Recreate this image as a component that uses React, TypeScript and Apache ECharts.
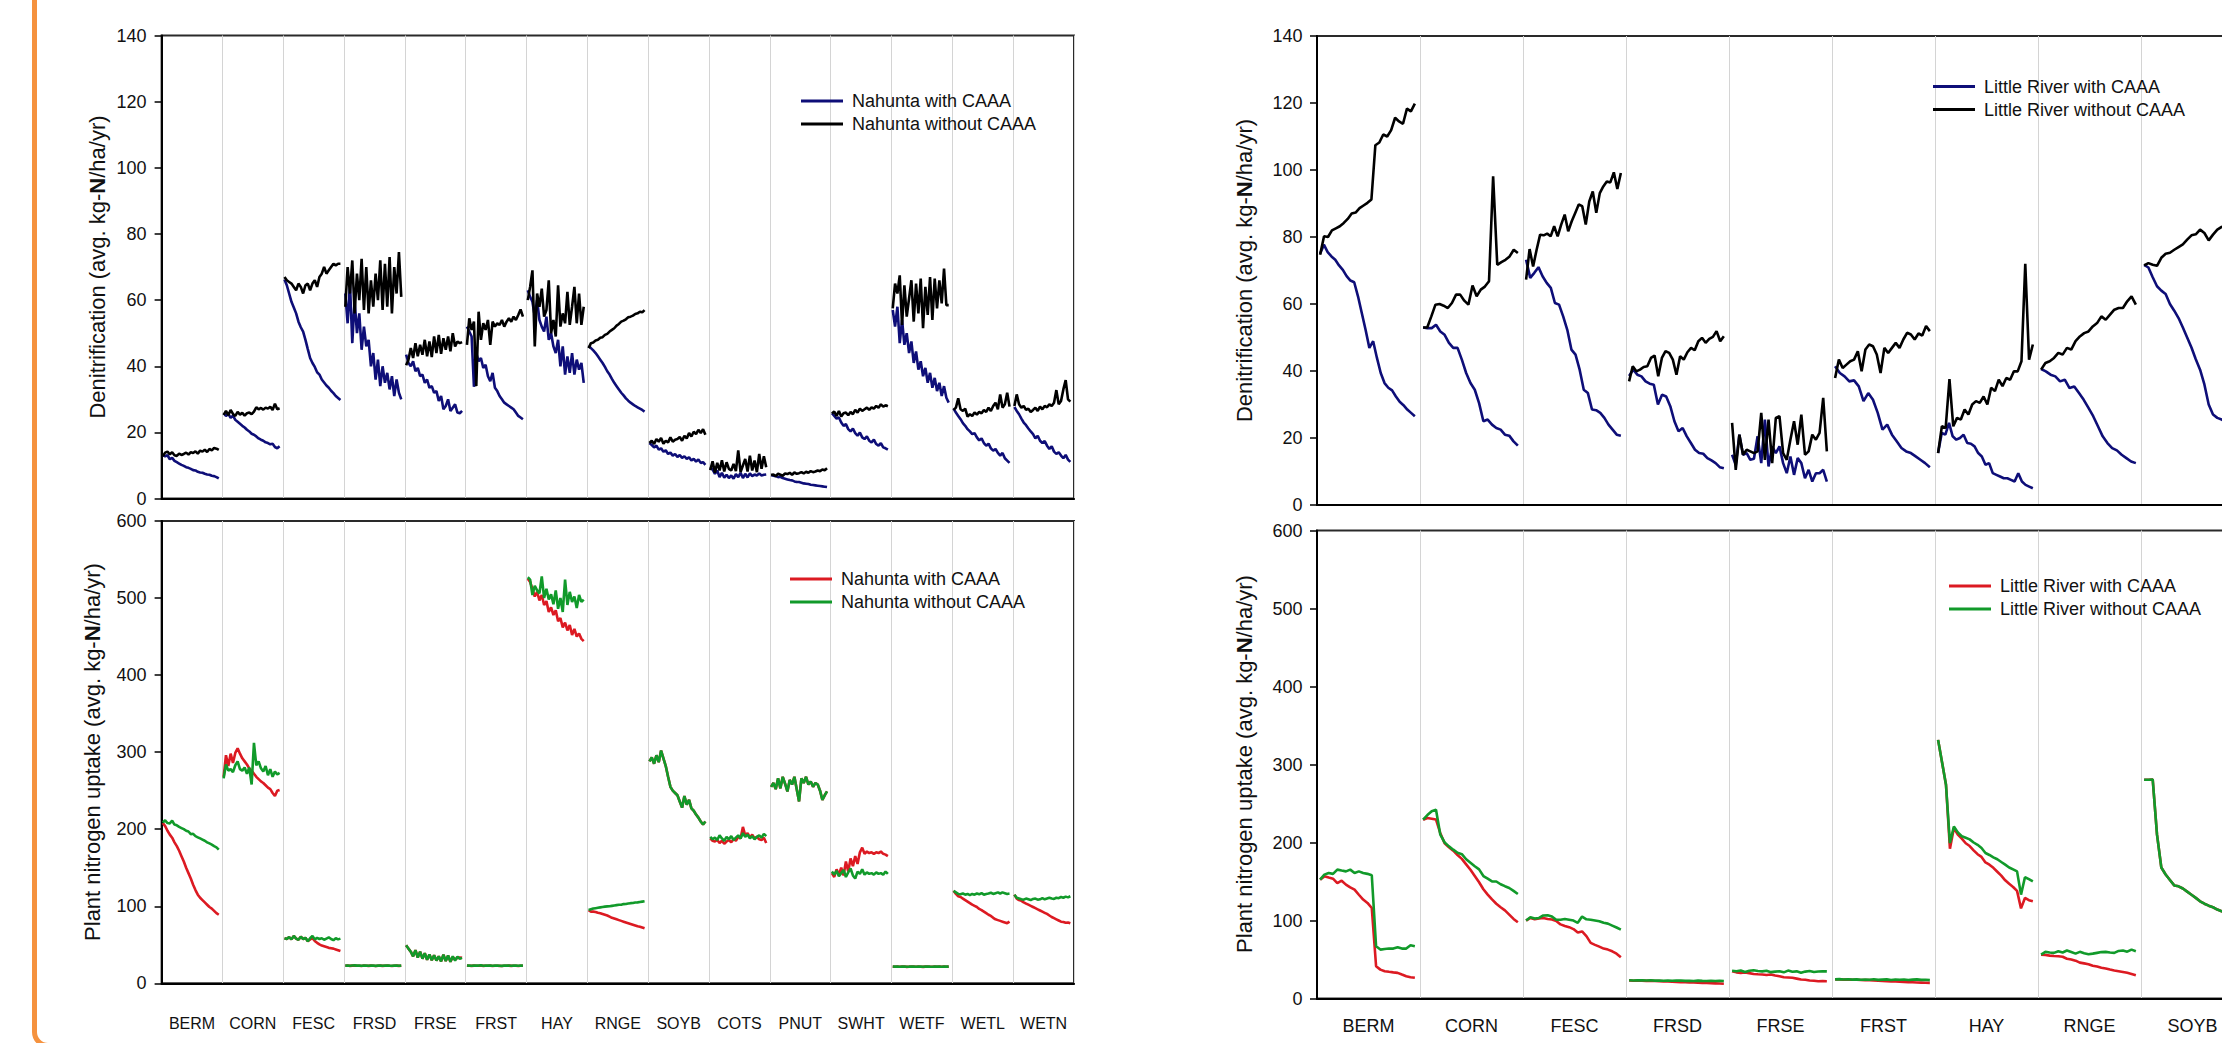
import React, { useEffect, useRef } from "react";
import * as echarts from "echarts";

const categories = ["BERM", "CORN", "FESC", "FRSD", "FRSE", "FRST", "HAY", "RNGE", "SOYB", "COTS", "PNUT", "SWHT", "WETF", "WETL", "WETN"];

const denitAxis = [0, 140, 20];
const uptakeAxis = [0, 600, 100];

// ---------- Nahunta: denitrification ----------
const nahDenitWith: number[][] = [
  [13.2, 12.8, 13.1, 11.9, 12.3, 11.4, 11.0, 10.6, 10.2, 9.9, 9.5, 9.3, 9.0, 8.6, 8.5, 8.1, 7.9, 7.8, 7.5, 7.3, 7.2, 6.9, 6.8, 6.5, 6.1],
  [25.8, 25.0, 25.6, 24.4, 25.1, 23.8, 23.2, 22.6, 22.0, 21.5, 20.8, 20.3, 19.6, 19.3, 18.8, 18.2, 17.8, 17.5, 17.0, 16.8, 16.4, 16.6, 15.6, 15.2, 15.8],
  [66.2, 64.5, 62.0, 59.5, 57.8, 56.0, 53.5, 51.8, 50.5, 48.0, 45.2, 42.5, 41.0, 39.8, 38.2, 37.5, 36.0, 35.1, 34.2, 33.5, 32.6, 31.9, 31.0, 30.4, 29.8],
  [62, 53, 65, 47, 60, 50, 56, 45, 52, 46, 48, 40, 44, 36, 42, 34, 40, 35, 38, 33, 37, 31, 36, 32, 30],
  [43.5, 41.0, 40.0, 41.5, 38.5, 39.5, 37.0, 37.5, 35.0, 36.0, 33.5, 34.0, 32.0, 32.5, 29.5, 31.0, 27.0, 28.0, 30.0, 26.5, 27.5, 28.5, 26.0, 25.8, 26.5],
  [52.0, 50.5, 49.0, 33.8, 44.0, 41.5, 42.5, 39.5, 40.5, 37.0, 35.5, 38.0, 33.5, 32.5, 31.0, 30.0, 29.0, 28.5, 28.0, 27.5, 27.0, 26.0, 25.0, 24.5, 24.0],
  [63.0, 61.0, 59.5, 55.0, 60.0, 54.0, 52.0, 50.5, 55.0, 48.0, 50.0, 46.0, 44.0, 48.0, 40.0, 46.0, 37.5, 43.0, 38.0, 44.0, 37.5, 42.0, 39.0, 41.0, 35.0],
  [46.2, 45.5, 44.8, 44.0, 43.0, 42.0, 41.0, 39.8, 38.5, 37.5, 36.2, 35.0, 34.0, 33.0, 32.0, 31.2, 30.3, 29.6, 29.0, 28.5, 28.0, 27.6, 27.2, 26.8, 26.3],
  [16.8, 16.2, 15.5, 16.0, 14.8, 15.2, 14.2, 14.6, 13.5, 13.9, 13.0, 13.5, 12.6, 13.2, 12.3, 12.8, 12.0, 12.5, 11.5, 12.0, 11.2, 11.8, 10.8, 11.0, 10.2],
  [9.5, 8.8, 7.5, 8.5, 6.5, 7.8, 6.3, 7.2, 6.2, 7.0, 6.0, 7.4, 6.5, 7.8, 6.2, 7.5, 6.4, 7.6, 6.8, 7.3, 7.0, 7.6, 7.0, 7.2, 7.3],
  [7.1, 6.9, 6.8, 6.5, 6.6, 6.2, 6.0, 5.8, 5.6, 5.5, 5.2, 5.0, 5.0, 4.8, 4.6, 4.5, 4.4, 4.2, 4.1, 4.0, 3.9, 3.8, 3.7, 3.6, 3.5],
  [25.8, 25.0, 24.2, 24.5, 23.0, 22.0, 22.5, 21.0, 20.3, 21.2, 19.8, 19.0, 20.0, 18.5, 18.0, 18.8, 17.5, 17.0, 17.8, 16.5, 16.0, 16.8, 15.5, 15.2, 14.8],
  [57.0, 52.0, 58.0, 47.0, 54.0, 46.5, 50.0, 44.0, 47.5, 41.0, 44.5, 39.0, 41.5, 37.0, 39.5, 35.0, 38.0, 33.5, 36.5, 32.5, 35.0, 31.0, 34.0, 30.5, 29.0],
  [27.2, 26.0, 25.0, 24.0, 22.8, 22.0, 21.0, 20.3, 19.5, 19.8, 18.5, 17.6, 18.2, 16.8, 16.0, 16.6, 15.2, 14.5, 15.0, 13.8, 13.0, 13.8, 12.2, 11.5, 10.8],
  [27.7, 26.5, 25.5, 24.2, 23.0, 22.2, 21.2, 20.3, 19.5, 18.2, 19.0, 17.5, 16.8, 17.4, 16.0, 15.0, 15.8, 14.2, 13.5, 14.0, 13.0, 12.2, 13.2, 11.8, 11.1],
];
const nahDenitWithout: number[][] = [
  [12.8, 13.9, 14.2, 13.4, 14.0, 13.1, 12.9, 13.6, 13.2, 13.5, 13.9, 13.3, 14.0, 13.8, 14.3, 13.6, 14.5, 14.2, 14.8, 14.1, 15.0, 14.6, 15.3, 15.1, 14.7],
  [25.3, 26.5, 25.2, 26.8, 25.6, 25.0, 26.2, 25.4, 25.9, 25.1, 25.8, 26.0, 25.5, 26.3, 27.6, 27.0, 27.4, 26.9, 27.5, 27.2, 27.8, 26.8, 28.7, 27.0, 27.3],
  [67, 66, 65.5, 65, 64, 63, 65, 64, 62, 64.5, 65, 63, 65, 66, 64, 67, 68, 70, 68, 69, 70, 71, 70.5, 71, 71],
  [58, 70, 62, 72, 56, 68, 60, 72.5, 57, 70, 56, 66, 58, 68, 60, 72, 57, 71, 58, 73, 56, 70, 62, 74.5, 61],
  [40.3, 42.0, 45.5, 42.5, 47.0, 43.0, 46.5, 43.5, 48.0, 43.0, 47.5, 42.8, 49.0, 44.0, 49.5, 43.8, 48.5, 45.0, 49.0, 44.5, 50.0, 46.0, 47.5, 47.0, 47.3],
  [46.5, 54.5, 51.0, 53.5, 34.0, 56.5, 48.0, 53.0, 51.0, 54.0, 46.5, 53.5, 52.0, 53.0, 52.5, 54.0, 52.0, 53.5, 54.5, 53.5, 55.0, 54.0, 55.5, 57.2, 55.0],
  [60.0, 64.0, 69.0, 46.0, 62.0, 58.0, 63.5, 55.0, 57.0, 66.0, 50.0, 54.0, 49.0, 64.5, 52.0, 56.0, 53.0, 62.5, 52.5, 58.0, 64.0, 53.0, 62.0, 52.5, 58.0],
  [45.5, 47.0, 47.2, 47.8, 48.0, 48.6, 48.8, 49.5, 49.8, 50.5, 51.0, 51.5, 52.3, 52.8, 53.5, 53.8, 54.2, 54.8, 55.0, 55.3, 55.8, 56.0, 56.5, 56.3, 57.0],
  [16.8, 17.5, 16.5, 18.0, 17.2, 18.3, 16.6, 17.5, 17.0, 18.5, 17.2, 17.8, 18.0, 18.6, 17.5, 19.0, 18.2, 19.8, 18.8, 20.2, 19.5, 20.8, 19.8, 21.0, 19.3],
  [8.6, 11.3, 7.8, 10.8, 8.5, 11.6, 8.2, 11.0, 9.0, 8.5, 10.5, 8.3, 14.6, 8.0, 10.0, 12.0, 8.2, 13.0, 8.5, 11.5, 8.0, 13.5, 9.0, 12.8, 9.5],
  [7.1, 7.3, 6.8, 7.5, 7.2, 6.9, 7.6, 7.4, 7.8, 7.2, 7.9, 7.5, 7.7, 8.0, 7.6, 8.1, 7.8, 8.3, 8.0, 8.2, 8.5, 8.3, 8.8, 8.6, 9.2],
  [25.7, 26.3, 25.0, 26.5, 24.8, 25.8, 26.0, 25.2, 26.2, 25.5, 26.8, 26.0, 27.2, 26.5, 27.0, 27.5, 26.8, 27.6, 27.2, 28.0, 27.5, 28.5, 27.8, 28.2, 27.9],
  [57.5, 65.0, 62.0, 67.5, 52.5, 64.5, 55.0, 60.5, 66.0, 53.5, 65.0, 56.0, 66.5, 51.5, 64.0, 55.5, 67.0, 54.0, 66.5, 57.5, 66.0, 59.0, 69.5, 58.5, 58.5],
  [26.8, 27.5, 30.3, 27.0, 26.5, 27.2, 24.8, 25.5, 25.0, 26.0, 25.4, 26.2, 25.8, 26.8, 26.2, 27.5, 26.5, 28.0, 29.0, 27.0, 31.5, 27.5, 28.5, 32.0, 27.8],
  [28.0, 31.5, 28.5, 27.5, 28.0, 26.8, 27.2, 26.2, 26.8, 27.5, 26.5, 27.8, 27.0, 28.0, 27.6, 28.5, 28.0, 29.0, 32.8, 28.5, 29.5, 33.0, 35.8, 30.0, 29.3],
];

// ---------- Nahunta: plant nitrogen uptake ----------
const nahUptakeWith: number[][] = [
  [208, 204, 198, 193, 189, 183, 178, 172, 165, 158, 150, 143, 136, 128, 121, 115, 111, 108, 105, 102, 99, 97, 94, 91, 89],
  [268, 296, 282, 298, 286, 299, 305, 298, 292, 288, 284, 279, 276, 272, 268, 265, 262, 260, 257, 254, 252, 247, 243, 250, 251],
  [58.5, 57.5, 60.0, 57.0, 61.5, 58.0, 56.5, 60.5, 57.5, 59.0, 54.5, 57.0, 58.5, 55.0, 52.5, 50.5, 49.0, 48.0, 47.0, 46.0, 45.5, 45.0, 44.0, 43.0, 42.0],
  [22.8, 23.0, 22.6, 22.9, 23.1, 22.7, 22.8, 22.5, 23.0, 22.8, 22.6, 22.9, 22.8, 22.4, 22.7, 22.9, 22.6, 22.8, 23.0, 22.7, 22.5, 22.8, 22.9, 22.6, 22.8],
  [49.5, 45.0, 41.0, 35.0, 43.0, 33.5, 41.0, 32.0, 39.0, 30.5, 37.5, 30.0, 36.5, 29.5, 35.0, 28.5, 37.0, 29.0, 36.0, 28.0, 34.0, 31.0, 33.0, 33.5, 33.0],
  [23.0, 22.8, 22.6, 22.9, 22.7, 22.8, 23.1, 22.6, 22.8, 22.7, 22.9, 22.5, 22.7, 22.8, 22.6, 22.4, 22.8, 22.7, 22.9, 22.6, 22.8, 22.7, 22.5, 22.8, 22.7],
  [525, 521, 512, 502, 508, 497, 504, 491, 496, 482, 488, 478, 484, 470, 474, 462, 468, 458, 465, 452, 460, 450, 454, 447, 444],
  [95, 93, 93, 92.5, 91.5, 91, 90, 89, 88, 86.5, 85, 84, 83, 82, 81, 80, 79, 78, 77, 76, 75, 74, 73.5, 72.5, 71.5],
  [288, 293, 285, 296, 287, 302, 292, 282, 268, 255, 250, 247, 244, 236, 228, 243, 232, 238, 227, 224, 219, 215, 210, 206, 210],
  [188, 185, 184, 186, 182, 185, 181, 184, 186, 183, 187, 185, 190, 188, 203, 192, 195, 189, 193, 188, 190, 187, 186, 189, 182],
  [255, 260, 252, 266, 253, 268, 259, 249, 264, 258, 268, 252, 236, 266, 260, 268, 258, 262, 255, 260, 258, 250, 238, 244, 249],
  [143, 138, 148, 141, 150, 140, 158, 145, 162, 152, 165, 155, 170, 176, 168, 171, 169, 170, 168, 170, 169, 171, 168, 167, 165],
  [21.7, 21.5, 21.8, 21.4, 21.6, 21.7, 21.3, 21.5, 21.8, 21.6, 21.4, 21.7, 21.5, 21.3, 21.6, 21.8, 21.5, 21.4, 21.7, 21.5, 21.6, 21.4, 21.7, 21.5, 21.6],
  [120, 116, 113, 112, 110, 108, 106, 104, 102, 100.5, 99, 96.5, 95, 93, 91, 89, 87.5, 85, 83, 82, 81, 80, 79, 78, 80],
  [115, 110, 108, 107, 105, 103.5, 102, 100.5, 99, 97.5, 96, 94.5, 93, 91.5, 90, 88, 86, 84.5, 83, 81.5, 80, 79.5, 78.5, 79, 78],
];
const nahUptakeWithout: number[][] = [
  [208.8, 211.5, 208.0, 207.5, 211.0, 206.0, 205.0, 203.0, 201.5, 200.0, 198.0, 197.0, 193.5, 194.0, 191.0, 189.5, 188.0, 186.5, 185.0, 183.0, 181.5, 180.0, 178.0, 176.5, 173.5],
  [266, 284, 276, 278, 274, 283, 288, 278, 276, 280, 272, 280, 258, 312, 283, 288, 279, 275, 282, 270, 278, 268, 275, 271, 273],
  [58.5, 57.5, 60.0, 57.0, 61.5, 58.0, 56.5, 60.5, 57.5, 59.0, 54.5, 58.5, 61.5, 57.0, 59.0, 57.5, 58.5, 56.5, 58.0, 59.5, 57.5, 56.0, 58.5, 57.0, 58.0],
  [23, 23.2, 22.8, 23.1, 23.3, 22.9, 23.0, 22.7, 23.2, 23.0, 22.8, 23.1, 23.0, 22.6, 22.9, 23.1, 22.8, 23.0, 23.2, 22.9, 22.7, 23.0, 23.1, 22.8, 23.0],
  [49.5, 45.0, 41.0, 35.0, 43.0, 33.5, 41.0, 32.0, 39.0, 30.5, 37.5, 30.0, 36.5, 29.5, 35.0, 28.5, 37.0, 29.0, 36.0, 28.0, 35.0, 29.5, 34.5, 32.0, 33.0],
  [23.2, 23.0, 22.8, 23.1, 22.9, 23.0, 23.3, 22.8, 23.0, 22.9, 23.1, 22.7, 22.9, 23.0, 22.8, 22.6, 23.0, 22.9, 23.1, 22.8, 23.0, 22.9, 22.7, 23.0, 22.9],
  [527, 524, 504, 516, 510, 506, 528, 500, 512, 498, 505, 492, 510, 486, 500, 482, 524, 491, 508, 495, 502, 487, 504, 495, 498],
  [95, 96, 97, 97.5, 98, 98.5, 99, 99.5, 99.8, 100, 100.5, 101, 101.5, 102, 102, 102.8, 103, 103.5, 104, 104.2, 104.8, 105, 105.5, 106, 106.5],
  [288, 293, 285, 296, 287, 302, 292, 282, 268, 255, 250, 247, 244, 236, 228, 243, 232, 238, 227, 224, 219, 215, 210, 206, 210],
  [190, 187, 189, 186, 192, 188, 185, 190, 187, 191, 186, 189, 192, 188, 195, 190, 193, 188, 191, 187, 190, 192, 189, 194, 191],
  [255, 260, 252, 266, 253, 268, 259, 249, 264, 258, 268, 252, 236, 266, 260, 268, 258, 262, 255, 260, 258, 250, 238, 244, 249],
  [145, 141, 146, 139, 143, 147, 138, 144, 149, 140, 136, 145, 142, 148, 141, 144, 142, 143, 141, 144, 142, 143, 141, 145, 142],
  [21.8, 21.6, 21.9, 21.5, 21.7, 21.8, 21.4, 21.6, 21.9, 21.7, 21.5, 21.8, 21.6, 21.4, 21.7, 21.9, 21.6, 21.5, 21.8, 21.6, 21.7, 21.5, 21.8, 21.6, 21.7],
  [120, 118, 116, 115.5, 116.5, 115, 116, 114.5, 116, 115, 116.5, 115.5, 117, 115, 116, 116.5, 117.5, 116, 117, 118, 116.5, 118, 117, 116, 116.5],
  [115, 111, 110, 109, 108.5, 110, 109, 108, 109.5, 110, 108.5, 109, 110.5, 109, 110, 111, 110, 109.5, 111, 110.5, 112, 111, 112.5, 111.5, 113],
];

// ---------- Little River: denitrification (categories past SOYB are off the page) ----------
const lrDenitWith: number[][] = [
  [75.0, 77.7, 75.5, 74.2, 73.2, 71.5, 70.2, 68.3, 67.0, 66.5, 62.3, 57.3, 52.3, 46.9, 48.9, 43.9, 39.4, 36.4, 35.0, 34.2, 32.4, 30.8, 29.8, 28.5, 27.5, 26.5],
  [53.0, 52.8, 52.8, 53.8, 51.8, 50.8, 48.4, 46.9, 46.9, 43.4, 39.4, 36.4, 34.4, 30.4, 25.0, 25.5, 24.0, 23.0, 22.5, 21.0, 20.7, 19.0, 17.7],
  [73.2, 67.8, 69.3, 71.0, 68.3, 66.3, 64.8, 60.3, 59.8, 56.3, 52.3, 46.4, 44.9, 40.4, 34.4, 33.4, 28.5, 28.3, 27.5, 26.0, 24.0, 22.5, 21.0, 20.7],
  [38.5, 40.4, 38.9, 38.4, 36.9, 36.2, 35.9, 30.0, 32.9, 32.4, 29.5, 25.0, 22.0, 23.0, 20.5, 18.5, 16.5, 15.5, 15.3, 14.0, 13.3, 12.5, 11.3, 11.0],
  [15.0, 12.0, 21.0, 15.0, 15.5, 13.5, 13.8, 20.5, 12.5, 25.5, 11.5, 17.5, 15.5, 17.5, 12.5, 9.5, 14.5, 9.0, 14.0, 12.5, 8.0, 10.5, 7.0, 9.5, 9.5, 10.5, 7.0],
  [41.4, 39.4, 38.4, 36.9, 37.2, 35.4, 31.0, 33.4, 31.4, 27.5, 22.5, 24.0, 21.0, 19.0, 17.0, 16.0, 15.5, 14.5, 13.5, 12.5, 11.3],
  [15.5, 21.5, 21.0, 24.5, 20.5, 19.5, 20.0, 21.0, 18.5, 18.3, 17.5, 15.5, 14.5, 12.0, 12.5, 9.5, 9.0, 8.5, 8.0, 8.0, 7.5, 7.0, 9.5, 7.0, 6.0, 5.5, 5.0],
  [40.6, 39.9, 38.9, 38.4, 36.9, 37.4, 34.9, 35.4, 33.4, 31.4, 29.0, 26.5, 23.5, 20.5, 18.5, 17.0, 16.3, 15.0, 14.0, 13.0, 12.5],
  [71.7, 70.9, 68.0, 65.3, 64.0, 63.0, 60.0, 58.0, 55.8, 53.0, 50.0, 47.0, 43.5, 40.4, 36.0, 30.0, 27.0, 26.0, 25.5, 24.8, 24.2, 23.6, 23.0],
  [], [], [], [], [], [],
];
const lrDenitWithout: number[][] = [
  [74.7, 80.2, 80.0, 82.0, 82.6, 83.2, 84.2, 85.4, 87.0, 87.3, 88.6, 89.4, 90.2, 91.2, 107.4, 108.2, 110.6, 110.0, 111.9, 115.6, 114.5, 113.8, 118.3, 117.5, 119.8],
  [53.0, 53.0, 56.3, 59.8, 60.0, 59.5, 58.8, 60.3, 62.8, 62.8, 61.0, 59.8, 65.5, 62.3, 64.3, 65.2, 66.8, 98.1, 71.7, 72.5, 73.2, 74.2, 76.2, 75.2],
  [67.3, 76.4, 71.2, 76.2, 80.7, 80.5, 81.0, 80.2, 83.2, 80.2, 83.7, 86.7, 81.7, 84.7, 87.2, 89.7, 89.2, 83.7, 90.6, 93.6, 87.2, 93.1, 95.1, 96.6, 96.3, 99.3, 94.3, 99.1],
  [36.9, 41.4, 39.9, 40.4, 41.2, 41.4, 43.9, 44.6, 38.4, 43.9, 45.9, 45.4, 43.4, 38.9, 44.4, 43.4, 45.6, 46.9, 46.2, 48.9, 49.9, 48.4, 49.6, 50.2, 51.9, 48.9, 50.4],
  [24.5, 10.5, 21.0, 15.0, 16.5, 16.0, 15.5, 16.0, 27.5, 13.5, 25.5, 12.5, 26.0, 26.5, 15.5, 13.5, 19.5, 25.0, 18.0, 27.0, 15.0, 16.0, 21.0, 19.5, 21.5, 32.0, 16.0],
  [37.9, 43.4, 40.9, 41.9, 42.9, 43.4, 45.9, 39.9, 46.4, 47.9, 47.4, 44.9, 39.4, 46.9, 45.4, 46.9, 48.4, 46.9, 49.4, 51.4, 50.9, 49.4, 51.2, 50.6, 53.4, 51.9],
  [15.5, 23.5, 23.0, 37.6, 23.5, 26.0, 25.5, 28.5, 27.0, 30.0, 31.0, 30.5, 32.4, 30.0, 35.0, 34.0, 37.4, 35.5, 37.9, 37.4, 39.9, 39.9, 42.9, 72.0, 43.4, 47.9],
  [40.4, 42.4, 42.9, 43.9, 45.4, 44.9, 46.9, 46.4, 48.9, 50.3, 51.3, 51.8, 53.3, 54.3, 56.3, 55.3, 56.8, 58.3, 58.8, 58.8, 60.8, 62.3, 59.8],
  [71.5, 72.2, 71.7, 71.4, 73.8, 75.0, 75.3, 76.2, 77.0, 77.8, 79.2, 80.5, 80.8, 82.2, 81.2, 79.0, 80.7, 82.2, 83.0, 83.5, 84.0, 83.2, 84.5],
  [], [], [], [], [], [],
];

// ---------- Little River: plant nitrogen uptake ----------
const lrUptakeWith: number[][] = [
  [152.4, 156.6, 155.0, 153.6, 148.0, 151.0, 146.0, 142.5, 139.6, 133.0, 126.8, 122.5, 116.0, 41.4, 37.0, 35.0, 34.2, 33.5, 32.9, 30.7, 28.6, 27.3, 26.5],
  [229.2, 231.3, 230.5, 229.5, 212, 199, 194, 189.5, 184, 179, 172, 165, 157, 149, 140, 133.2, 127, 121.5, 117, 113, 107.6, 102, 97.7],
  [99.9, 103.3, 101.5, 102.5, 103.3, 102, 101.2, 99.5, 95, 93, 91.5, 89, 84.5, 86, 80, 71.3, 68.8, 66.5, 64, 62.7, 60.5, 57.5, 52.9],
  [23.2, 22.8, 23.0, 22.9, 22.6, 22.8, 22.5, 22.3, 22.0, 21.8, 21.5, 21.3, 21.0, 20.8, 20.6, 20.5, 20.2, 20.0, 19.8, 19.6, 19.4, 19.2, 18.9],
  [35.0, 33.5, 32.9, 33.5, 32.5, 31.5, 31.0, 30.7, 30.2, 30.7, 29.5, 28.6, 27.3, 27.0, 26.5, 25.5, 24.3, 24.0, 23.0, 22.8, 22.2, 22.3, 22.2],
  [24.5, 24.5, 24.2, 24.3, 24.0, 24.1, 23.8, 23.6, 23.5, 23.2, 22.8, 22.5, 22.2, 22.0, 21.8, 21.5, 21.3, 21.0, 20.8, 20.6, 20.4, 20.2, 20.0],
  [331.6, 303, 274, 192, 218.5, 210, 205, 199, 195.5, 190, 185, 181.5, 174.5, 171.6, 167.5, 162.5, 157.5, 151.5, 147, 143, 138, 115.5, 128.9, 126, 124.6],
  [56.3, 55.8, 55.0, 54.5, 54.2, 53.5, 51.0, 50.0, 48.5, 46.0, 45.0, 44.0, 42.0, 41.0, 39.5, 38.5, 37.2, 36.0, 35.0, 34.0, 32.9, 31.5, 29.9],
  [280.4, 280.4, 280.8, 210, 168, 159, 152, 145, 143.8, 141, 137, 133, 129, 124.6, 121.5, 119, 117, 114, 111.8, 110, 108, 106, 104],
  [], [], [], [], [], [],
];
const lrUptakeWithout: number[][] = [
  [152.4, 158.8, 161.0, 159.8, 165.2, 164.0, 163.0, 165.2, 161.0, 163.0, 161.0, 159.8, 158.0, 67.0, 62.7, 63.5, 64.0, 64.0, 65.7, 64.0, 64.0, 68.3, 67.0],
  [229.2, 235.2, 240, 242, 210, 200, 195, 190.8, 186.8, 185, 178.5, 174, 169.5, 165.5, 157, 153.6, 150.2, 150, 146.5, 144, 141.7, 138, 134],
  [99.9, 104.1, 102.5, 103.3, 106.5, 106.7, 105, 101, 101, 102, 101, 99.9, 97, 105, 101.5, 101, 100, 99, 97, 96, 93.5, 91, 88.3],
  [23.5, 23.0, 23.4, 23.2, 23.0, 23.3, 22.9, 23.1, 22.8, 23.0, 22.7, 22.9, 23.1, 22.6, 22.8, 22.5, 22.9, 22.6, 22.4, 22.8, 22.5, 22.7, 22.4],
  [35.5, 35.0, 36.0, 34.0, 35.5, 36.2, 35.3, 34.8, 35.5, 33.8, 34.5, 35.0, 33.5, 35.8, 34.2, 34.8, 33.0, 34.5, 35.2, 34.0, 34.6, 35.0, 34.8],
  [24.5, 24.8, 24.3, 24.6, 24.2, 24.5, 24.0, 24.4, 24.1, 24.6, 23.9, 24.2, 24.5, 23.8, 24.4, 24.0, 24.3, 23.7, 24.2, 24.5, 23.9, 24.1, 23.6],
  [331.6, 303, 274, 199.3, 220.6, 213, 208, 206, 204, 200, 197, 193, 186.5, 184, 181, 178.5, 175, 171.6, 168, 165.5, 163, 133.2, 155.5, 153, 150.2],
  [56.3, 59.8, 59, 58.5, 60.6, 59, 61.5, 59.5, 57.5, 59.8, 58, 56.8, 57.5, 58.5, 59.5, 59.8, 59, 58.5, 61, 61.5, 60, 62.7, 60.6],
  [280.4, 280.4, 280.8, 210, 168, 159, 152, 145, 143.8, 141, 137, 133, 129, 124.6, 121.5, 119, 117, 114, 111.8, 110, 108, 106, 104],
  [], [], [], [], [], [],
];

const FONT = "'Liberation Sans', Arial, Helvetica, sans-serif";

type Cfg = {
  box: [number, number, number, number];
  grid: [number, number, number, number];
  yAxis: number[];
  xLabels: boolean;
  xLabelSize: number;
  xLabelMargin: number;
  yLabelMargin: number;
  legend: [number, number];
  names: [string, string];
  colors: [string, string];
  data: [number[][], number[][]];
  seg: [number, number];
  title: [string, string, string];
  titlePos: [number, number];
};

function buildLine(segs: number[][], s0: number, s1: number) {
  const out: (number | null)[][] = [];
  segs.forEach((vals, c) => {
    if (!vals.length) return;
    const n = vals.length;
    vals.forEach((v, k) => out.push([c + s0 + ((s1 - s0) * k) / (n - 1), v]));
    out.push([c + 0.995, null]);
  });
  return out;
}

function makeOption(c: Cfg): any {
  const [gl, gt, gw, gh] = c.grid;
  return {
    animation: false,
    backgroundColor: "transparent",
    grid: { left: gl, top: gt, width: gw, height: gh, show: true, borderColor: "#2a2a2a", borderWidth: 2, backgroundColor: "transparent" },
    xAxis: [
      {
        type: "category",
        data: categories,
        boundaryGap: true,
        position: "bottom",
        axisLine: { show: true, lineStyle: { color: "#000", width: 2 } },
        axisTick: { show: false },
        axisLabel: { show: c.xLabels, interval: 0, fontSize: c.xLabelSize, color: "#111", margin: c.xLabelMargin, fontFamily: FONT },
        splitLine: { show: true, lineStyle: { color: "#d4d4d4", width: 1 } },
      },
      { type: "value", min: 0, max: categories.length, show: false },
    ],
    yAxis: {
      type: "value",
      min: c.yAxis[0],
      max: c.yAxis[1],
      interval: c.yAxis[2],
      axisLine: { show: true, lineStyle: { color: "#000", width: 2 } },
      axisTick: { show: true, inside: false, length: 7, lineStyle: { color: "#000", width: 1.5 } },
      axisLabel: { fontSize: 18, color: "#111", margin: c.yLabelMargin, fontFamily: FONT },
      splitLine: { show: false },
    },
    legend: {
      orient: "vertical",
      left: c.legend[0],
      top: c.legend[1],
      padding: 0,
      icon: "rect",
      itemWidth: 42,
      itemHeight: 3,
      itemGap: 5,
      selectedMode: false,
      textStyle: { fontSize: 18, color: "#111", fontFamily: FONT, padding: [0, 0, 0, 4] },
      data: c.names,
    },
    graphic: [
      {
        type: "text",
        x: c.titlePos[0],
        y: c.titlePos[1],
        rotation: Math.PI / 2,
        silent: true,
        style: {
          text: `{a|${c.title[0]}}{b|${c.title[1]}}{a|${c.title[2]}}`,
          rich: {
            a: { fontSize: 22, fontFamily: FONT, fill: "#111" },
            b: { fontSize: 22, fontFamily: FONT, fontWeight: "bold", fill: "#111" },
          },
          fontSize: 22,
          fontFamily: FONT,
          fill: "#111",
          align: "center",
          verticalAlign: "middle",
          textAlign: "center",
          textVerticalAlign: "middle",
        },
      },
    ],
    series: c.names.map((name, i) => ({
      type: "line",
      name,
      xAxisIndex: 1,
      yAxisIndex: 0,
      data: buildLine(c.data[i], c.seg[0], c.seg[1]),
      symbol: "none",
      showSymbol: false,
      connectNulls: false,
      silent: true,
      lineStyle: { width: 2.6, color: c.colors[i] },
      itemStyle: { color: c.colors[i] },
    })),
  };
}

const BLUE = "#0e0e78";
const BLACK = "#000000";
const RED = "#dc1a22";
const GREEN = "#119a2a";

const charts: Cfg[] = [
  {
    box: [0, 0, 1111, 510],
    grid: [161.6, 35.5, 912.4, 463.1],
    yAxis: denitAxis,
    xLabels: false,
    xLabelSize: 16,
    xLabelMargin: 32,
    yLabelMargin: 15,
    legend: [801, 92],
    names: ["Nahunta with CAAA", "Nahunta without CAAA"],
    colors: [BLUE, BLACK],
    data: [nahDenitWith, nahDenitWithout],
    seg: [0.02, 0.94],
    title: ["Denitrification (avg. kg-", "N", "/ha/yr)"],
    titlePos: [97, 267],
  },
  {
    box: [0, 510, 1111, 533],
    grid: [161.6, 11, 912.4, 462.3],
    yAxis: uptakeAxis,
    xLabels: true,
    xLabelSize: 16,
    xLabelMargin: 32,
    yLabelMargin: 15,
    legend: [790, 60],
    names: ["Nahunta with CAAA", "Nahunta without CAAA"],
    colors: [RED, GREEN],
    data: [nahUptakeWith, nahUptakeWithout],
    seg: [0.02, 0.94],
    title: ["Plant nitrogen uptake (avg. kg-", "N", "/ha/yr)"],
    titlePos: [92, 242],
  },
  {
    box: [1111, 0, 1800, 517],
    grid: [206, 36, 1545, 469],
    yAxis: denitAxis,
    xLabels: false,
    xLabelSize: 18,
    xLabelMargin: 18,
    yLabelMargin: 14.5,
    legend: [822, 77.5],
    names: ["Little River with CAAA", "Little River without CAAA"],
    colors: [BLUE, BLACK],
    data: [lrDenitWith, lrDenitWithout],
    seg: [0.03, 0.95],
    title: ["Denitrification (avg. kg-", "N", "/ha/yr)"],
    titlePos: [133, 270.5],
  },
  {
    box: [1111, 517, 1800, 526],
    grid: [206, 13.5, 1545, 468],
    yAxis: uptakeAxis,
    xLabels: true,
    xLabelSize: 18,
    xLabelMargin: 18,
    yLabelMargin: 14.5,
    legend: [838, 60],
    names: ["Little River with CAAA", "Little River without CAAA"],
    colors: [RED, GREEN],
    data: [lrUptakeWith, lrUptakeWithout],
    seg: [0.03, 0.95],
    title: ["Plant nitrogen uptake (avg. kg-", "N", "/ha/yr)"],
    titlePos: [133, 247],
  },
];

function Chart({ cfg }: { cfg: Cfg }) {
  const ref = useRef<HTMLDivElement>(null);
  useEffect(() => {
    if (!ref.current) return;
    const inst = echarts.init(ref.current, undefined, { renderer: "svg" });
    inst.setOption(makeOption(cfg));
    return () => inst.dispose();
  }, [cfg]);
  const [l, t, w, h] = cfg.box;
  return <div ref={ref} style={{ position: "absolute", left: l, top: t, width: w, height: h }} />;
}

export default function App() {
  return (
    <div style={{ position: "fixed", left: 0, top: 0, width: 2222, height: 1043, overflow: "hidden", background: "#ffffff" }}>
      <div
        style={{
          position: "absolute",
          left: 31.5,
          top: -60,
          width: 3000,
          height: 1108,
          border: "5px solid #f5923e",
          borderRadius: 16,
          boxSizing: "border-box",
        }}
      />
      {charts.map((c, i) => (
        <Chart key={i} cfg={c} />
      ))}
    </div>
  );
}
